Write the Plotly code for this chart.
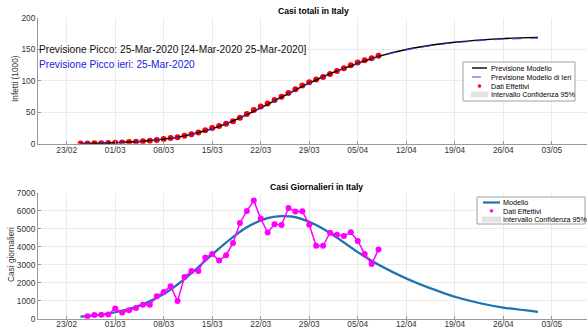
import plotly.graph_objects as go
import pandas as pd

W, H = 587, 329
FONT = "Liberation Sans, Arial, Helvetica, sans-serif"

# ---------------- data ----------------
# cumulative data (thousands), daily from 2020-02-25
cum_dates = pd.date_range("2020-02-25", "2020-04-08", freq="D")
cum_values = [0.322, 0.400, 0.650, 0.888, 1.128, 1.694, 2.036, 2.502, 3.089, 3.858,
              4.636, 5.883, 7.375, 9.172, 10.149, 12.462, 15.113, 17.660, 21.157, 24.747,
              27.980, 31.506, 35.713, 41.035, 47.021, 53.578, 59.138, 63.927, 69.176, 74.386,
              80.589, 86.498, 92.472, 97.689, 101.739, 105.792, 110.574, 115.242, 119.827,
              124.632, 128.948, 132.547, 135.586, 139.422]

cum_model_dates = ["2020-02-25", "2020-03-01", "2020-03-05", "2020-03-08", "2020-03-11",
                   "2020-03-14", "2020-03-17", "2020-03-20", "2020-03-23", "2020-03-26",
                   "2020-03-29", "2020-04-01", "2020-04-04", "2020-04-08", "2020-04-12",
                   "2020-04-16", "2020-04-19", "2020-04-23", "2020-04-26", "2020-05-01"]
cum_model = [0.3, 1.6, 3.9, 7.2, 12.5, 20.5, 31.5, 46.0, 62.5, 79.5,
             96.0, 111.0, 123.5, 138.5, 149.5, 157.0, 161.0, 164.8, 166.8, 168.8]
cum_model_ieri = [0.3, 1.6, 3.9, 7.2, 12.5, 20.5, 31.5, 46.0, 62.5, 79.5,
                  96.0, 110.8, 123.2, 138.0, 149.0, 156.3, 160.3, 164.0, 165.9, 167.6]
cum_ci_lo = [0.2, 1.4, 3.6, 6.9, 12.1, 20.0, 31.0, 45.4, 61.8, 78.8,
             95.2, 110.1, 122.5, 137.4, 148.3, 155.7, 159.7, 163.4, 165.3, 167.3]
cum_ci_hi = [0.4, 1.8, 4.2, 7.5, 12.9, 21.0, 32.0, 46.6, 63.2, 80.2,
             96.8, 111.9, 124.5, 139.6, 150.7, 158.3, 162.3, 166.2, 168.3, 170.3]

# daily data, from 2020-02-26
daily_dates = pd.date_range("2020-02-26", "2020-04-08", freq="D")
daily_values = [130, 200, 220, 240, 570, 340, 470, 590, 770, 780,
                1250, 1490, 1800, 980, 2310, 2650, 2650, 3400, 3590, 3230,
                3530, 4210, 5320, 5990, 6560, 5560, 4790, 5250, 5210, 6150,
                5960, 5970, 5220, 4050, 4050, 4780, 4670, 4590, 4800, 4320,
                3600, 3040, 3840]

daily_model_dates = ["2020-02-25", "2020-02-28", "2020-03-02", "2020-03-05", "2020-03-08",
                     "2020-03-11", "2020-03-14", "2020-03-17", "2020-03-20", "2020-03-23",
                     "2020-03-25", "2020-03-27", "2020-03-30", "2020-04-02", "2020-04-05",
                     "2020-04-08", "2020-04-12", "2020-04-16", "2020-04-19", "2020-04-23",
                     "2020-04-26", "2020-05-01"]
daily_model = [110, 230, 440, 800, 1370, 2200, 3220, 4230, 5080, 5590,
               5700, 5640, 5200, 4500, 3700, 3000, 2240, 1620, 1220, 830, 620, 380]
daily_ci_lo = [90, 200, 400, 750, 1310, 2130, 3150, 4160, 5010, 5520,
               5630, 5570, 5120, 4410, 3610, 2910, 2150, 1540, 1150, 770, 570, 340]
daily_ci_hi = [130, 260, 480, 850, 1430, 2270, 3290, 4300, 5150, 5660,
               5770, 5710, 5280, 4590, 3790, 3090, 2330, 1700, 1290, 890, 670, 420]

tick_dates = ["2020-02-23", "2020-03-01", "2020-03-08", "2020-03-15", "2020-03-22",
              "2020-03-29", "2020-04-05", "2020-04-12", "2020-04-19", "2020-04-26",
              "2020-05-03"]
tick_labels = ["23/02", "01/03", "08/03", "15/03", "22/03", "29/03", "05/04",
               "12/04", "19/04", "26/04", "03/05"]
cum_yticks = [0, 50, 100, 150, 200]
daily_yticks = [0, 1000, 2000, 3000, 4000, 5000, 6000, 7000]

# ---------------- figure ----------------
def X(px):
    return px / W

def Y(py):
    return 1 - py / H

fig = go.Figure()

# top: CI band
fig.add_trace(go.Scatter(x=cum_model_dates, y=cum_ci_lo, mode="lines", line=dict(width=0, shape="spline"),
                         hoverinfo="skip", showlegend=False, xaxis="x", yaxis="y"))
fig.add_trace(go.Scatter(x=cum_model_dates, y=cum_ci_hi, mode="lines", line=dict(width=0, shape="spline"),
                         fill="tonexty", fillcolor="rgba(200,200,200,0.6)", name="Intervallo Confidenza 95%",
                         showlegend=False, xaxis="x", yaxis="y"))
fig.add_trace(go.Scatter(x=cum_dates, y=cum_values, mode="markers", name="Dati Effettivi",
                         marker=dict(color="#ff0000", size=6), showlegend=False, xaxis="x", yaxis="y"))
fig.add_trace(go.Scatter(x=cum_model_dates, y=cum_model, mode="lines", name="Previsione Modello",
                         line=dict(color="#000000", width=1.4, shape="spline"), showlegend=False,
                         xaxis="x", yaxis="y"))
fig.add_trace(go.Scatter(x=cum_model_dates, y=cum_model_ieri, mode="lines", name="Previsione Modello di Ieri",
                         line=dict(color="rgba(60,60,230,0.8)", width=1.2, dash="dash", shape="spline"),
                         showlegend=False, xaxis="x", yaxis="y"))

# bottom
fig.add_trace(go.Scatter(x=daily_model_dates, y=daily_ci_lo, mode="lines", line=dict(width=0, shape="spline"),
                         hoverinfo="skip", showlegend=False, xaxis="x2", yaxis="y2"))
fig.add_trace(go.Scatter(x=daily_model_dates, y=daily_ci_hi, mode="lines", line=dict(width=0, shape="spline"),
                         fill="tonexty", fillcolor="rgba(200,205,215,0.6)", name="Intervallo Confidenza 95%",
                         showlegend=False, xaxis="x2", yaxis="y2"))
fig.add_trace(go.Scatter(x=daily_model_dates, y=daily_model, mode="lines", name="Modello",
                         line=dict(color="#1f72b0", width=2.2, shape="spline"), showlegend=False,
                         xaxis="x2", yaxis="y2"))
fig.add_trace(go.Scatter(x=daily_dates, y=daily_values, mode="lines+markers", name="Dati Effettivi",
                         line=dict(color="#ff00ff", width=1.5), marker=dict(color="#ff00ff", size=6),
                         showlegend=False, xaxis="x2", yaxis="y2"))

xrange = ["2020-02-18 20:40", "2020-05-08 02:00"]
axis_common = dict(showgrid=True, gridcolor="#ebebeb", gridwidth=1, showline=True, linecolor="#9a9a9a",
                   linewidth=1, ticks="inside", ticklen=3, tickcolor="#9a9a9a",
                   tickfont=dict(family=FONT, size=8.3, color="#333333"), zeroline=False)

fig.update_layout(
    width=W, height=H,
    margin=dict(l=0, r=0, t=0, b=0),
    paper_bgcolor="white", plot_bgcolor="white",
    showlegend=False,
    xaxis=dict(domain=[X(38), 1], anchor="y", type="date", range=xrange, tickvals=tick_dates,
               ticktext=tick_labels, automargin=False, ticklabelstandoff=-2, **axis_common),
    yaxis=dict(domain=[Y(143.7), Y(17.7)], anchor="x", range=[0, 200], tickvals=cum_yticks,
               automargin=False, **axis_common),
    xaxis2=dict(domain=[X(38), 1], anchor="y2", type="date", range=xrange, tickvals=tick_dates,
                ticktext=tick_labels, automargin=False, ticklabelstandoff=-3, **axis_common),
    yaxis2=dict(domain=[Y(318.7), Y(192.7)], anchor="x2", range=[0, 7000], tickvals=daily_yticks,
                automargin=False, **axis_common),
)

ann = []
def text(px, py, s, size, color="#000000", bold=False, xanchor="left", angle=0):
    ann.append(dict(x=X(px), y=Y(py), xref="paper", yref="paper", text=f"<b>{s}</b>" if bold else s,
                    showarrow=False, xanchor=xanchor, yanchor="middle", textangle=angle,
                    font=dict(family=FONT, size=size, color=color)))

text(313, 11, "Casi totali in Italy", 8.6, bold=True, xanchor="center")
text(316, 187, "Casi Giornalieri in Italy", 8.6, bold=True, xanchor="center")
text(15, 79, "Infetti (1000)", 8.3, color="#333333", xanchor="center", angle=-90)
text(11, 255, "Casi giornalieri", 8.3, color="#333333", xanchor="center", angle=-90)
text(37, 49, "Previsione Picco: 25-Mar-2020 [24-Mar-2020 25-Mar-2020]", 10.2, color="#111111")
text(37, 64.5, "Previsione Picco ieri: 25-Mar-2020", 10.2, color="#2020e0")

shapes = []
# top legend
shapes.append(dict(type="rect", xref="paper", yref="paper", x0=X(463), x1=X(575), y0=Y(101), y1=Y(62),
                   fillcolor="white", line=dict(color="#a0a0a0", width=1), layer="above"))
shapes.append(dict(type="line", xref="paper", yref="paper", x0=X(472), x1=X(487), y0=Y(68), y1=Y(68),
                   line=dict(color="black", width=1.4), layer="above"))
shapes.append(dict(type="line", xref="paper", yref="paper", x0=X(472), x1=X(487), y0=Y(77), y1=Y(77),
                   line=dict(color="rgba(60,60,230,0.8)", width=1.2, dash="dash"), layer="above"))
shapes.append(dict(type="circle", xref="paper", yref="paper", x0=X(478), x1=X(481), y0=Y(87.5), y1=Y(84.5),
                   fillcolor="#ff0000", line=dict(color="#ff0000", width=0.5), layer="above"))
shapes.append(dict(type="rect", xref="paper", yref="paper", x0=X(471), x1=X(488), y0=Y(97.5), y1=Y(91.5),
                   fillcolor="#e3e3e3", line=dict(width=0), layer="above"))
text(489, 68, "Previsione Modello", 7.2)
text(489, 77, "Previsione Modello di Ieri", 7.2)
text(489, 86, "Dati Effettivi", 7.2)
text(489, 94.5, "Intervallo Confidenza 95%", 7.2)

# bottom legend
shapes.append(dict(type="rect", xref="paper", yref="paper", x0=X(477), x1=X(585), y0=Y(224), y1=Y(197),
                   fillcolor="white", line=dict(color="#a0a0a0", width=1), layer="above"))
shapes.append(dict(type="line", xref="paper", yref="paper", x0=X(483), x1=X(500), y0=Y(202.5), y1=Y(202.5),
                   line=dict(color="#1f72b0", width=2.2), layer="above"))
shapes.append(dict(type="circle", xref="paper", yref="paper", x0=X(490), x1=X(493), y0=Y(212.3), y1=Y(209.3),
                   fillcolor="#ff00ff", line=dict(color="#ff00ff", width=0.5), layer="above"))
shapes.append(dict(type="rect", xref="paper", yref="paper", x0=X(482), x1=X(501), y0=Y(222.5), y1=Y(216.5),
                   fillcolor="#e3e3e3", line=dict(width=0), layer="above"))
text(501, 202.5, "Modello", 7.2)
text(501, 211, "Dati Effettivi", 7.2)
text(501, 219.8, "Intervallo Confidenza 95%", 7.2)

fig.update_layout(annotations=ann, shapes=shapes)
fig.write_html("out.html", config={"displayModeBar": False},
               post_script="document.body.style.margin='0';document.body.style.padding='0';"
                           "document.documentElement.style.overflow='hidden';")
